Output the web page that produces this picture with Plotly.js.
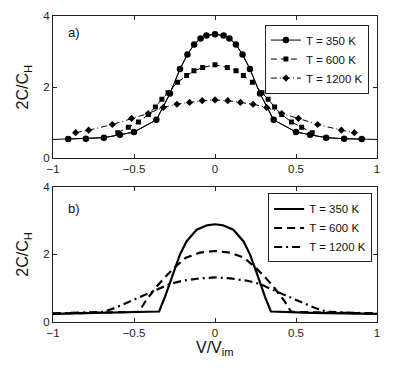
<!DOCTYPE html>
<html>
<head>
<meta charset="utf-8">
<script src="https://cdn.plot.ly/plotly-3.0.1.min.js"></script>
<style>
  html, body { margin: 0; padding: 0; background: #fff; }
  #graph { width: 415px; height: 371px; }
</style>
</head>
<body>
<div id="graph"></div>
<script>
// Panel a) : measured points (x = V/Vim, y = 2C/CH)
const xA350 = [-0.906, -0.797, -0.686, -0.587, -0.5, -0.362, -0.278, -0.216, -0.17, -0.129, -0.089, -0.053, 0,
  0.053, 0.089, 0.129, 0.17, 0.216, 0.278, 0.362, 0.5, 0.587, 0.686, 0.797, 0.906];
const yA350 = [0.54, 0.55, 0.58, 0.66, 0.74, 1.08, 1.82, 2.51, 2.92, 3.2, 3.37, 3.45, 3.49,
  3.45, 3.37, 3.2, 2.92, 2.51, 1.82, 1.08, 0.74, 0.66, 0.58, 0.55, 0.54];
// the 350 K line is carried on to the frame at this level
const yA350Edge = 0.53;

const xA600 = [-0.6, -0.535, -0.472, -0.412, -0.368, -0.328, -0.29, -0.231, -0.175, -0.13, -0.076, 0,
  0.076, 0.13, 0.175, 0.231, 0.29, 0.328, 0.368, 0.412, 0.472, 0.535, 0.6];
const yA600 = [0.72, 0.87, 1.02, 1.23, 1.44, 1.66, 1.84, 2.14, 2.33, 2.46, 2.55, 2.63,
  2.55, 2.46, 2.33, 2.14, 1.84, 1.66, 1.44, 1.23, 1.02, 0.87, 0.72];

const xA1200 = [-0.86, -0.78, -0.634, -0.515, -0.412, -0.319, -0.235, -0.157, -0.079, 0,
  0.079, 0.157, 0.235, 0.319, 0.412, 0.515, 0.634, 0.78, 0.86];
const yA1200 = [0.72, 0.79, 0.95, 1.12, 1.26, 1.43, 1.52, 1.57, 1.62, 1.64,
  1.62, 1.57, 1.52, 1.43, 1.26, 1.12, 0.95, 0.79, 0.72];

// Panel b) : model curves
const xB350 = [-1, -0.6, -0.345, -0.31, -0.277, -0.253, -0.216, -0.175, -0.113, -0.05, 0,
  0.05, 0.113, 0.175, 0.216, 0.253, 0.277, 0.31, 0.345, 0.6, 1];
const yB350 = [0.24, 0.27, 0.31, 0.73, 1.17, 1.51, 2.0, 2.39, 2.73, 2.86, 2.89,
  2.86, 2.73, 2.39, 2.0, 1.51, 1.17, 0.73, 0.31, 0.27, 0.24];

const xB600 = [-1, -0.47, -0.427, -0.365, -0.31, -0.25, -0.18, -0.094, 0,
  0.094, 0.18, 0.25, 0.31, 0.365, 0.427, 0.47, 1];
const yB600 = [0.25, 0.3, 0.63, 1.02, 1.32, 1.61, 1.9, 2.05, 2.1,
  2.05, 1.9, 1.61, 1.32, 1.02, 0.63, 0.3, 0.25];

const xB1200 = [-1, -0.69, -0.615, -0.49, -0.365, -0.28, -0.2, -0.094, 0,
  0.094, 0.2, 0.28, 0.365, 0.49, 0.615, 0.69, 1];
const yB1200 = [0.25, 0.3, 0.42, 0.68, 0.93, 1.12, 1.22, 1.29, 1.32,
  1.29, 1.22, 1.12, 0.93, 0.68, 0.42, 0.3, 0.25];

const seriesNames = ['T = 350 K', 'T = 600 K', 'T = 1200 K'];
const xTicks = [-1, -0.5, 0, 0.5, 1];
const xTickText = ['\u22121', '\u22120.5', '0', '0.5', '1'];
const yTicks = [0, 2, 4];

const FONT = 'Liberation Sans, Arial, sans-serif';
const INK = '#000';

const traces = [
  // plain line under the 350 K points, reaching both frame edges
  {
    x: [-1].concat(xA350, [1]),
    y: [yA350Edge].concat(yA350, [yA350Edge]),
    showlegend: false, hoverinfo: 'skip',
    type: 'scatter', mode: 'lines', xaxis: 'x', yaxis: 'y',
    line: { color: INK, width: 1 },
  },
  {
    x: xA350, y: yA350, name: seriesNames[0], legend: 'legend',
    type: 'scatter', mode: 'lines+markers', xaxis: 'x', yaxis: 'y',
    line: { color: INK, width: 1 },
    marker: { symbol: 'circle', size: 6.5, color: INK, line: { width: 0 } },
  },
  {
    x: xA600, y: yA600, name: seriesNames[1], legend: 'legend',
    type: 'scatter', mode: 'lines+markers', xaxis: 'x', yaxis: 'y',
    line: { color: INK, width: 1, dash: '6px,4px' },
    marker: { symbol: 'square', size: 5, color: INK, line: { width: 0 } },
  },
  {
    x: xA1200, y: yA1200, name: seriesNames[2], legend: 'legend',
    type: 'scatter', mode: 'lines+markers', xaxis: 'x', yaxis: 'y',
    line: { color: INK, width: 1, dash: '6px,3px,1px,3px' },
    marker: { symbol: 'diamond', size: 5.5, color: INK, line: { width: 0 } },
  },
  {
    x: xB350, y: yB350, name: seriesNames[0], legend: 'legend2',
    type: 'scatter', mode: 'lines', xaxis: 'x2', yaxis: 'y2',
    line: { color: INK, width: 2.2 },
  },
  {
    x: xB600, y: yB600, name: seriesNames[1], legend: 'legend2',
    type: 'scatter', mode: 'lines', xaxis: 'x2', yaxis: 'y2',
    line: { color: INK, width: 2.2, dash: '8px,5px' },
  },
  {
    x: xB1200, y: yB1200, name: seriesNames[2], legend: 'legend2',
    type: 'scatter', mode: 'lines', xaxis: 'x2', yaxis: 'y2',
    line: { color: INK, width: 2.2, dash: '8px,4px,2px,4px' },
  },
];

function axisBase() {
  return {
    showline: true,
    linecolor: '#222',
    linewidth: 1,
    mirror: 'ticks',
    ticks: 'inside',
    ticklen: 4,
    tickcolor: '#222',
    showgrid: false,
    zeroline: false,
    tickfont: { family: FONT, size: 11.5, color: '#222' },
  };
}

function xAxis(anchor) {
  return Object.assign(axisBase(), {
    anchor,
    domain: [0, 1],
    range: [-1, 1],
    tickvals: xTicks,
    ticktext: xTickText,
  });
}

function yAxis(anchor, domain) {
  return Object.assign(axisBase(), {
    anchor,
    domain,
    range: [0, 4],
    tickvals: yTicks,
    title: { text: '2C/C<sub>H</sub>', font: { family: FONT, size: 16, color: '#111' }, standoff: 10 },
  });
}

function legendBox(x, y) {
  return {
    x, y,
    xanchor: 'right',
    yanchor: 'top',
    bgcolor: '#fff',
    bordercolor: '#222',
    borderwidth: 1,
    font: { family: FONT, size: 11.5, color: '#111' },
    tracegroupgap: 0,
  };
}

const layout = {
  width: 415,
  height: 371,
  margin: { l: 53, r: 38, t: 16, b: 49 },
  paper_bgcolor: '#fff',
  plot_bgcolor: '#fff',
  showlegend: true,
  xaxis: xAxis('y'),
  yaxis: yAxis('x', [0.535, 1]),
  xaxis2: xAxis('y2'),
  yaxis2: yAxis('x2', [0, 0.442]),
  legend: legendBox(0.975, 0.972),
  legend2: legendBox(0.985, 0.42),
  annotations: [
    { text: 'a)', xref: 'x', yref: 'y', x: -0.92, y: 3.53, showarrow: false,
      xanchor: 'left', font: { family: FONT, size: 13, color: '#111' } },
    { text: 'b)', xref: 'x2', yref: 'y2', x: -0.92, y: 3.35, showarrow: false,
      xanchor: 'left', font: { family: FONT, size: 13, color: '#111' } },
    // x axis label sits closer to the tick labels than plotly's own title would
    { text: 'V/V<sub>im</sub>', xref: 'paper', yref: 'paper', x: 0.5, y: -0.053,
      xanchor: 'center', yanchor: 'top', showarrow: false, borderpad: 0,
      font: { family: FONT, size: 16, color: '#111' } },
  ],
};

Plotly.newPlot('graph', traces, layout, { displayModeBar: false, staticPlot: true });
</script>
</body>
</html>
